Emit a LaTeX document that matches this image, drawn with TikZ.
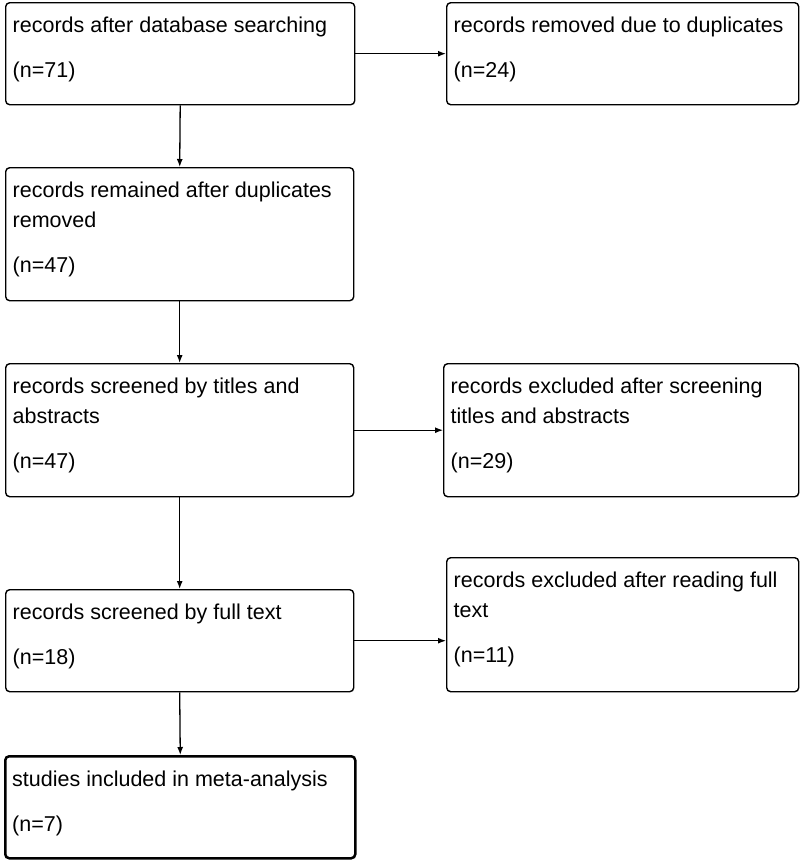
\documentclass[tikz,border=0pt]{standalone}
\usepackage{fontspec}
\setmainfont{Liberation Sans}
\usepackage{tikz}
\usetikzlibrary{arrows.meta}

\newcommand{\boxtext}[4]{\parbox[c][#2][t]{#1}{\raggedright\leftskip=7pt\rule{0pt}{30pt}#3\par\vspace{15pt}#4}}

\begin{document}
\begin{tikzpicture}[x=1pt, y=-1pt, font=\fontsize{21.5}{30}\selectfont,
		box/.style={draw, rounded corners=4pt, inner sep=0pt, anchor=north west, line width=1.4pt},
		flow/.style={line width=1.3pt, -{Latex[length=8pt,width=6pt]}}]
				\useasboundingbox (0,0) rectangle (800,860);
				\node[box] (0) at (5,2) {\boxtext{349pt}{102pt}{records after database searching}{(n=71)}};
				\node[box] (1) at (446,2) {\boxtext{352pt}{102pt}{records removed due to duplicates}{(n=24)}};
				\node[box] (2) at (5,167) {\boxtext{348pt}{133pt}{records remained after duplicates\\removed}{(n=47)}};
				\node[box] (3) at (5,363) {\boxtext{348pt}{133pt}{records screened by titles and\\abstracts}{(n=47)}};
				\node[box] (4) at (443,363) {\boxtext{355pt}{133pt}{records excluded after screening\\titles and abstracts}{(n=29)}};
				\node[box] (5) at (5,589) {\boxtext{348pt}{102pt}{records screened by full text}{(n=18)}};
				\node[box] (6) at (446,557) {\boxtext{352pt}{134pt}{records excluded after reading full\\text}{(n=11)}};
				\node[box, line width=2.5pt] (7) at (4,755) {\boxtext{350pt}{102pt}{studies included in meta-analysis}{(n=7)}};
				
				\draw[flow]  (0.east) -- (1.west);
				\draw[flow]  (0.south) -- (2.north);
				\draw[flow]  (2.south) -- (3.north);
				\draw[flow]  (3.east) -- (4.west);
				\draw[flow]  (3.south) -- (5.north);
				\draw[flow]  (5.east) -- (5.east -| 6.west);
				\draw[flow]  (5.south) -- (7.north);
			\end{tikzpicture}
\end{document}
